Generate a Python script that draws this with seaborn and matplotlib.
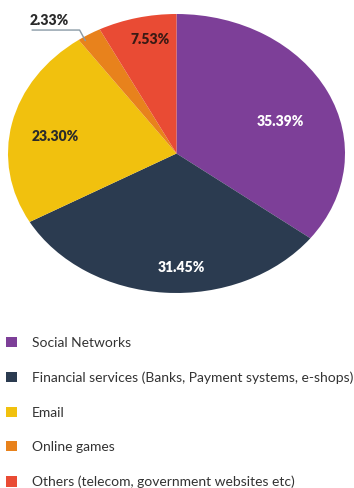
import numpy as np
import matplotlib
matplotlib.use("Agg")
import matplotlib.pyplot as plt
import seaborn as sns

categories = [
    "Social Networks",
    "Financial services (Banks, Payment systems, e-shops)",
    "Email",
    "Online games",
    "Others (telecom, government websites etc)",
]
shares = [35.39, 31.45, 23.30, 2.33, 7.53]
colors = ["#7d3f98", "#2b3b50", "#f1c10e", "#e8821c", "#e94b34"]
label_colors = ["white", "white", "#2a2a2a", "#2a2a2a", "#3a1a14"]

sns.set_theme(style="white")
plt.rcParams["font.family"] = ["Lato", "DejaVu Sans"]
palette = sns.color_palette(colors)

fig = plt.figure(figsize=(3.54, 4.88), dpi=100)
ax = fig.add_axes([8 / 354, 1 - 293 / 488, 337 / 354, 279 / 488])

wedges, _ = ax.pie(
    shares, colors=palette, startangle=90, counterclock=False,
    radius=1.0, wedgeprops=dict(linewidth=0),
)
ax.set_aspect("auto")
ax.set_xlim(-1, 1)
ax.set_ylim(-1, 1)

# per-slice label placement: radius and angular nudge (degrees)
label_radius = [0.66, 0.82, 0.73, None, 0.83]
label_nudge = [-6.0, 6.0, 3.0, 2.5, -2.5]

for i, (w, val) in enumerate(zip(wedges, shares)):
    mid = np.deg2rad((w.theta1 + w.theta2) / 2 + label_nudge[i])
    text = f"{val:.2f}%"
    if label_radius[i] is None:
        # small slice: label outside, underlined by a leader line to the wedge
        tip = (np.cos(mid) * 0.97, np.sin(mid) * 0.97)
        ax.plot([-0.86, -0.575, tip[0]], [0.885, 0.885, tip[1]],
                color="#8a9aa6", lw=1.0, clip_on=False, solid_capstyle="butt")
        ax.text(-0.87, 0.955, text, ha="left", va="center", fontsize=10,
                fontweight="heavy", color=label_colors[i], clip_on=False)
        continue
    r = label_radius[i]
    ax.text(np.cos(mid) * r, np.sin(mid) * r, text,
            ha="center", va="center", fontsize=10, fontweight="heavy",
            color=label_colors[i])

fig.legend(
    wedges, categories,
    loc="upper left", bbox_to_anchor=(2 / 354, 1 - 333 / 488),
    frameon=False, fontsize=10, labelcolor="#333333",
    handlelength=0.75, handleheight=0.75, handletextpad=1.1,
    labelspacing=1.62, borderaxespad=0, borderpad=0.3,
)

fig.savefig("out.png", dpi=100)
